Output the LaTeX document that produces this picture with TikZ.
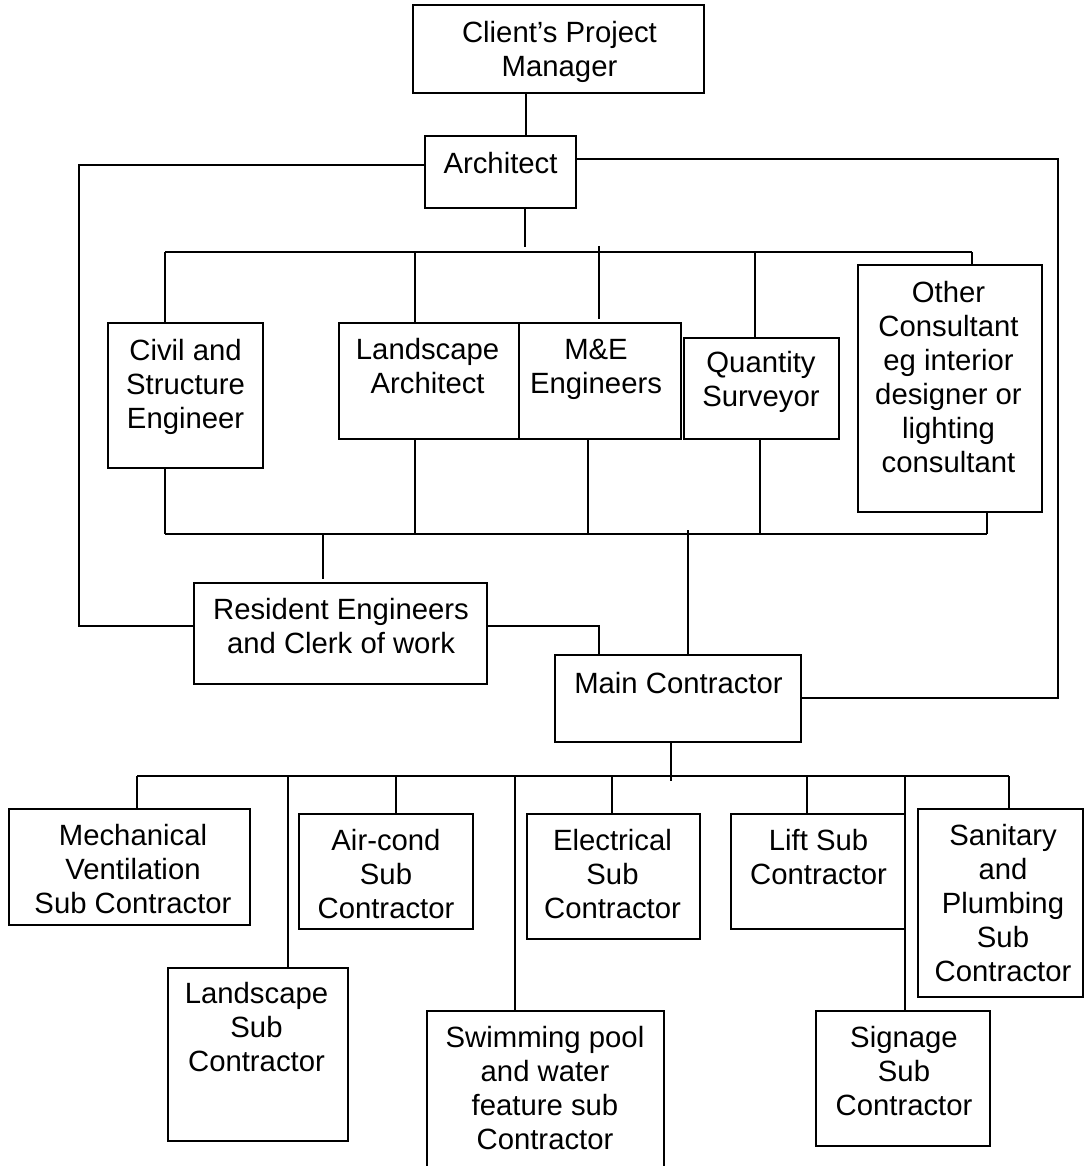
\documentclass[tikz,border=0pt]{standalone}
\usepackage{fontspec}
\setmainfont{Liberation Sans}
\newcommand\fs{\fontsize{29.3}{34}\selectfont}
\tikzset{
  box/.style={draw, line width=1.8pt, inner sep=0pt, outer sep=0pt, rectangle},
  txt/.style={align=center, inner sep=0pt, font=\fs},
  conn/.style={line width=1.5pt}
}
% name, x1, y1, x2, y2, text centre x, first baseline y, text
\newcommand\orgbox[8]{%
  \pgfmathsetmacro\OBw{#4-#2}%
  \pgfmathsetmacro\OBh{#5-#3}%
  \pgfmathsetmacro\OBx{(#2+#4)/2}%
  \pgfmathsetmacro\OBy{(#3+#5)/2}%
  \pgfmathsetmacro\OBt{#7-23.8}%
  \node[box, minimum width=\OBw pt, minimum height=\OBh pt] (#1) at (\OBx,\OBy) {};
  \node[txt, anchor=north] (#1-t) at (#6,\OBt) {\strut #8};
}
\begin{document}
\begin{tikzpicture}[x=1pt,y=-1pt]
\useasboundingbox (0,0) rectangle (1084,1166);
\clip (0,0) rectangle (1084,1166);
\fill[white] (0,0) rectangle (1084,1166);

% boxes
\orgbox{cpm}{413}{5}{704}{93}{559.5}{42}{Client’s Project\\Manager}
\orgbox{arch}{425}{136}{576}{208}{500.5}{173}{Architect}
\orgbox{civ}{108}{323}{263}{468}{185.6}{360}{Civil and\\Structure\\Engineer}
\orgbox{la}{339}{323}{519}{439}{427.6}{359}{Landscape\\Architect}
\orgbox{me}{519}{323}{681}{439}{596}{359}{M\&E\\Engineers}
\orgbox{qs}{684}{338}{839}{439}{761}{372}{Quantity\\Surveyor}
\orgbox{oth}{858}{265}{1042}{512}{948.5}{302}{Other\\Consultant\\eg interior\\designer or\\lighting\\consultant}
\orgbox{res}{194}{583}{487}{684}{341}{619}{Resident Engineers\\and Clerk of work}
\orgbox{mc}{555}{655}{801}{742}{678.5}{693}{Main Contractor}
\orgbox{mech}{9}{809}{250}{925}{133}{845}{Mechanical\\Ventilation\\Sub Contractor}
\orgbox{air}{299}{814}{473}{929}{386}{850}{Air-cond\\Sub\\Contractor}
\orgbox{elec}{527}{814}{700}{939}{612.5}{850}{Electrical\\Sub\\Contractor}
\orgbox{lift}{731}{814}{905}{929}{818.5}{850}{Lift Sub\\Contractor}
\orgbox{san}{918}{809}{1083}{997}{1003}{845}{Sanitary\\and\\Plumbing\\Sub\\Contractor}
\orgbox{ls}{168}{968}{348}{1141}{256.5}{1003}{Landscape\\Sub\\Contractor}
\orgbox{swim}{427}{1011}{664}{1190}{545}{1047}{Swimming pool\\and water\\feature sub\\Contractor}
\orgbox{sig}{816}{1011}{990}{1146}{904}{1047}{Signage\\Sub\\Contractor}

% junction coordinates
\coordinate (c1) at (526,0);
\coordinate (aL) at (79,165);
\coordinate (rL) at (79,626);
\coordinate (aR) at (1058,159);
\coordinate (mR) at (1058,698);
\coordinate (s1) at (525,247);
\coordinate (u1) at (165,252);
\coordinate (u2) at (972,252);
\coordinate (ula) at (415,252);
\coordinate (ume) at (599,246);
\coordinate (ume2) at (599,319);
\coordinate (uqs) at (755,252);
\coordinate (l1) at (165,534);
\coordinate (l2) at (987,534);
\coordinate (lla) at (415,534);
\coordinate (lme) at (588,534);
\coordinate (lqs) at (760,534);
\coordinate (lres) at (323,534);
\coordinate (lres2) at (323,579);
\coordinate (lmc) at (688,530);
\coordinate (rm) at (599,626);
\coordinate (ms) at (671,781);
\coordinate (b1) at (137,776);
\coordinate (b2) at (1009,776);
\coordinate (bls) at (288,776);
\coordinate (bair) at (396,776);
\coordinate (bsw) at (515,776);
\coordinate (bel) at (612,776);
\coordinate (bli) at (807,776);
\coordinate (bsg) at (905,776);

% connectors
\draw[conn] (cpm.south -| c1) -- (arch.north -| c1);
\draw[conn] (aL -| arch.west) -- (aL) -- (rL) -- (rL -| res.west);
\draw[conn] (aR -| arch.east) -- (aR) -- (mR) -- (mR -| mc.east);
\draw[conn] (arch.south -| s1) -- (s1);
\draw[conn] (u1) -- (u2);
\draw[conn] (u1) -- (u1 |- civ.north);
\draw[conn] (ula) -- (ula |- la.north);
\draw[conn] (ume) -- (ume2);
\draw[conn] (uqs) -- (uqs |- qs.north);
\draw[conn] (u2) -- (u2 |- oth.north);
\draw[conn] (l1) -- (l2);
\draw[conn] (civ.south -| l1) -- (l1);
\draw[conn] (la.south -| lla) -- (lla);
\draw[conn] (me.south -| lme) -- (lme);
\draw[conn] (qs.south -| lqs) -- (lqs);
\draw[conn] (oth.south -| l2) -- (l2);
\draw[conn] (lres) -- (lres2);
\draw[conn] (lmc) -- (lmc |- mc.north);
\draw[conn] (rm -| res.east) -- (rm) -- (rm |- mc.north);
\draw[conn] (mc.south -| ms) -- (ms);
\draw[conn] (b1) -- (b2);
\draw[conn] (b1) -- (b1 |- mech.north);
\draw[conn] (bls) -- (bls |- ls.north);
\draw[conn] (bair) -- (bair |- air.north);
\draw[conn] (bsw) -- (bsw |- swim.north);
\draw[conn] (bel) -- (bel |- elec.north);
\draw[conn] (bli) -- (bli |- lift.north);
\draw[conn] (bsg) -- (bsg |- sig.north);
\draw[conn] (b2) -- (b2 |- san.north);
\end{tikzpicture}
\end{document}
